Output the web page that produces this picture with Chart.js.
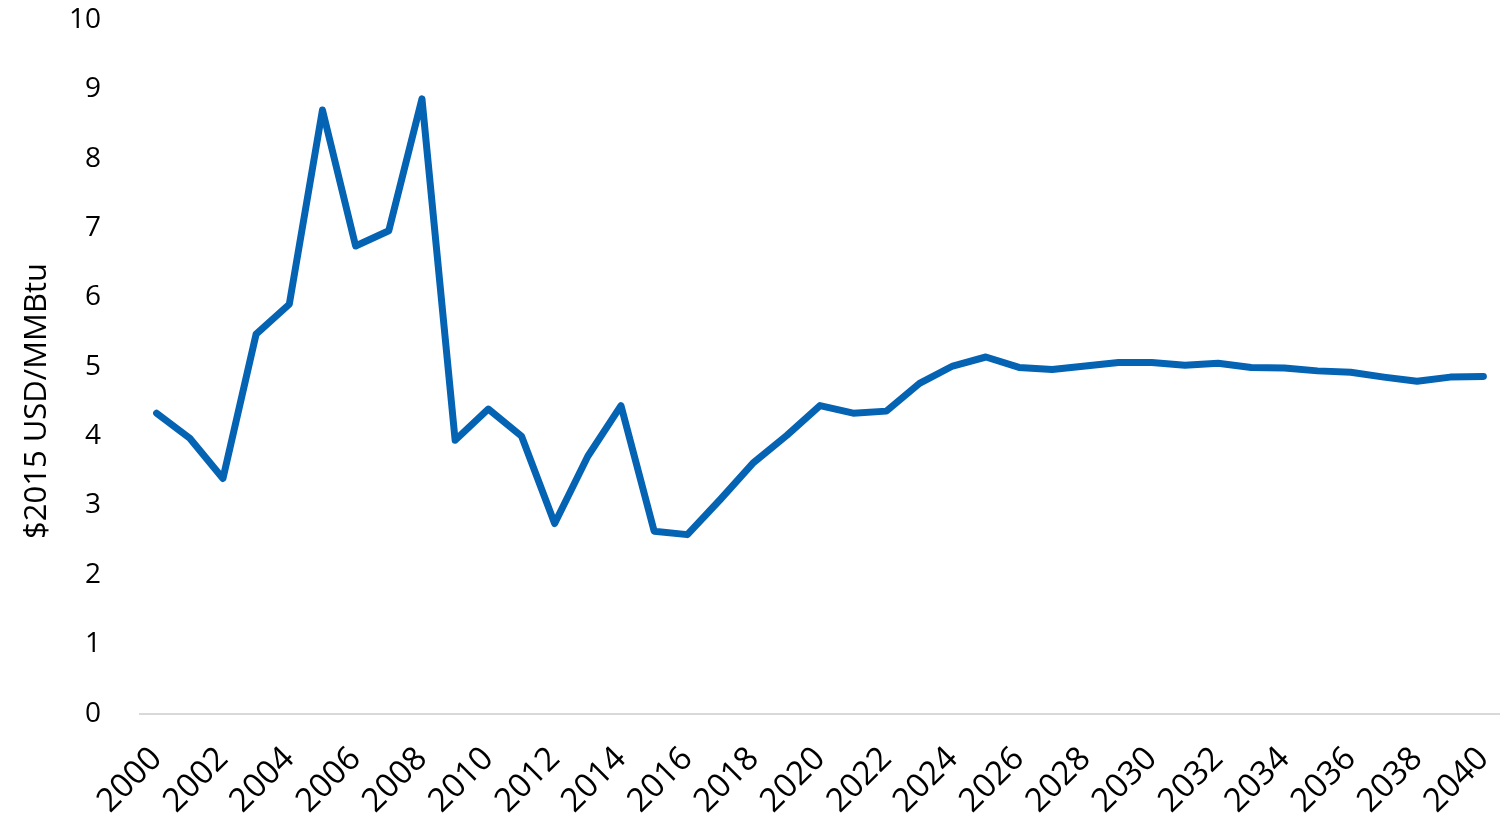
<!DOCTYPE html>
<html>
<head>
<meta charset="utf-8">
<script src="https://cdn.jsdelivr.net/npm/chart.js@4.4.1/dist/chart.umd.min.js"></script>
<style>
  html, body { margin: 0; padding: 0; background: #fff; }
  #wrap { width: 1500px; height: 830px; }
</style>
</head>
<body>
<div id="wrap"><canvas id="price-chart"></canvas></div>
<script>
// Data
const years = [
  2000, 2001, 2002, 2003, 2004, 2005, 2006, 2007, 2008, 2009,
  2010, 2011, 2012, 2013, 2014, 2015, 2016, 2017, 2018, 2019,
  2020, 2021, 2022, 2023, 2024, 2025, 2026, 2027, 2028, 2029,
  2030, 2031, 2032, 2033, 2034, 2035, 2036, 2037, 2038, 2039, 2040
];
const prices = [
  4.33, 3.97, 3.39, 5.47, 5.90, 8.70, 6.74, 6.96, 8.86, 3.94,
  4.39, 4.00, 2.74, 3.71, 4.44, 2.63, 2.58, 3.09, 3.62, 4.01,
  4.44, 4.33, 4.36, 4.76, 5.01, 5.14, 4.99, 4.96, 5.01, 5.06,
  5.06, 5.02, 5.05, 4.99, 4.98, 4.94, 4.92, 4.85, 4.79, 4.85, 4.86
];
const yTitle = "$2015 USD/MMBtu";

const fontFamily = "'Open Sans', 'Noto Sans', sans-serif";

let priceChart = null;

// Axis title sits a bit below the plot's middle in the original,
// so it is drawn here instead of with scales.y.title
const yTitlePlugin = {
  id: 'yTitle',
  afterDraw: (chart) => {
    const c = chart.ctx;
    c.save();
    c.translate(37, 401);
    c.rotate(-Math.PI / 2);
    c.font = `31px ${fontFamily}`;
    c.fillStyle = '#000';
    c.textAlign = 'center';
    c.textBaseline = 'middle';
    c.fillText(yTitle, 0, 0);
    c.restore();
  }
};

const renderChart = () => {
  const ctx = document.getElementById("price-chart").getContext("2d");
  priceChart = new Chart(ctx, {
    type: 'line',
    data: {
      labels: years.map(String),
      datasets: [{
        label: yTitle,
        data: prices,
        borderColor: '#0563b4',
        backgroundColor: '#0563b4',
        borderWidth: 7,
        borderCapStyle: 'round',
        borderJoinStyle: 'round',
        pointRadius: 0,
        tension: 0,
        fill: false
      }]
    },
    plugins: [yTitlePlugin],
    options: {
      responsive: true,
      maintainAspectRatio: false,
      animation: false,
      layout: { padding: { top: 0, right: 0, left: 66, bottom: 5 } },
      plugins: {
        legend: { display: false },
        tooltip: { enabled: false }
      },
      scales: {
        x: {
          offset: true,
          // invisible tick marks only make room between axis and labels
          grid: { display: false, drawTicks: true, tickLength: 22 },
          border: { display: true, color: '#d9d9d9', width: 2 },
          afterFit: (scale) => {
            // let the plot run to the canvas edge like the original
            scale.paddingLeft = 0;
            scale.paddingRight = 0;
          },
          ticks: {
            autoSkip: false,
            maxRotation: 45,
            minRotation: 45,
            padding: 4,
            color: '#000',
            font: { family: fontFamily, size: 33 },
            callback: function (value, index) {
              return index % 2 === 0 ? this.getLabelForValue(value) : null;
            }
          }
        },
        y: {
          min: 0,
          max: 10,
          grid: { display: false, drawTicks: true, tickLength: 36 },
          border: { display: false },
          ticks: {
            stepSize: 1,
            padding: 3,
            color: '#000',
            font: { family: fontFamily, size: 28 }
          }
        }
      }
    }
  });
};

document.addEventListener("DOMContentLoaded", renderChart);
</script>
</body>
</html>
